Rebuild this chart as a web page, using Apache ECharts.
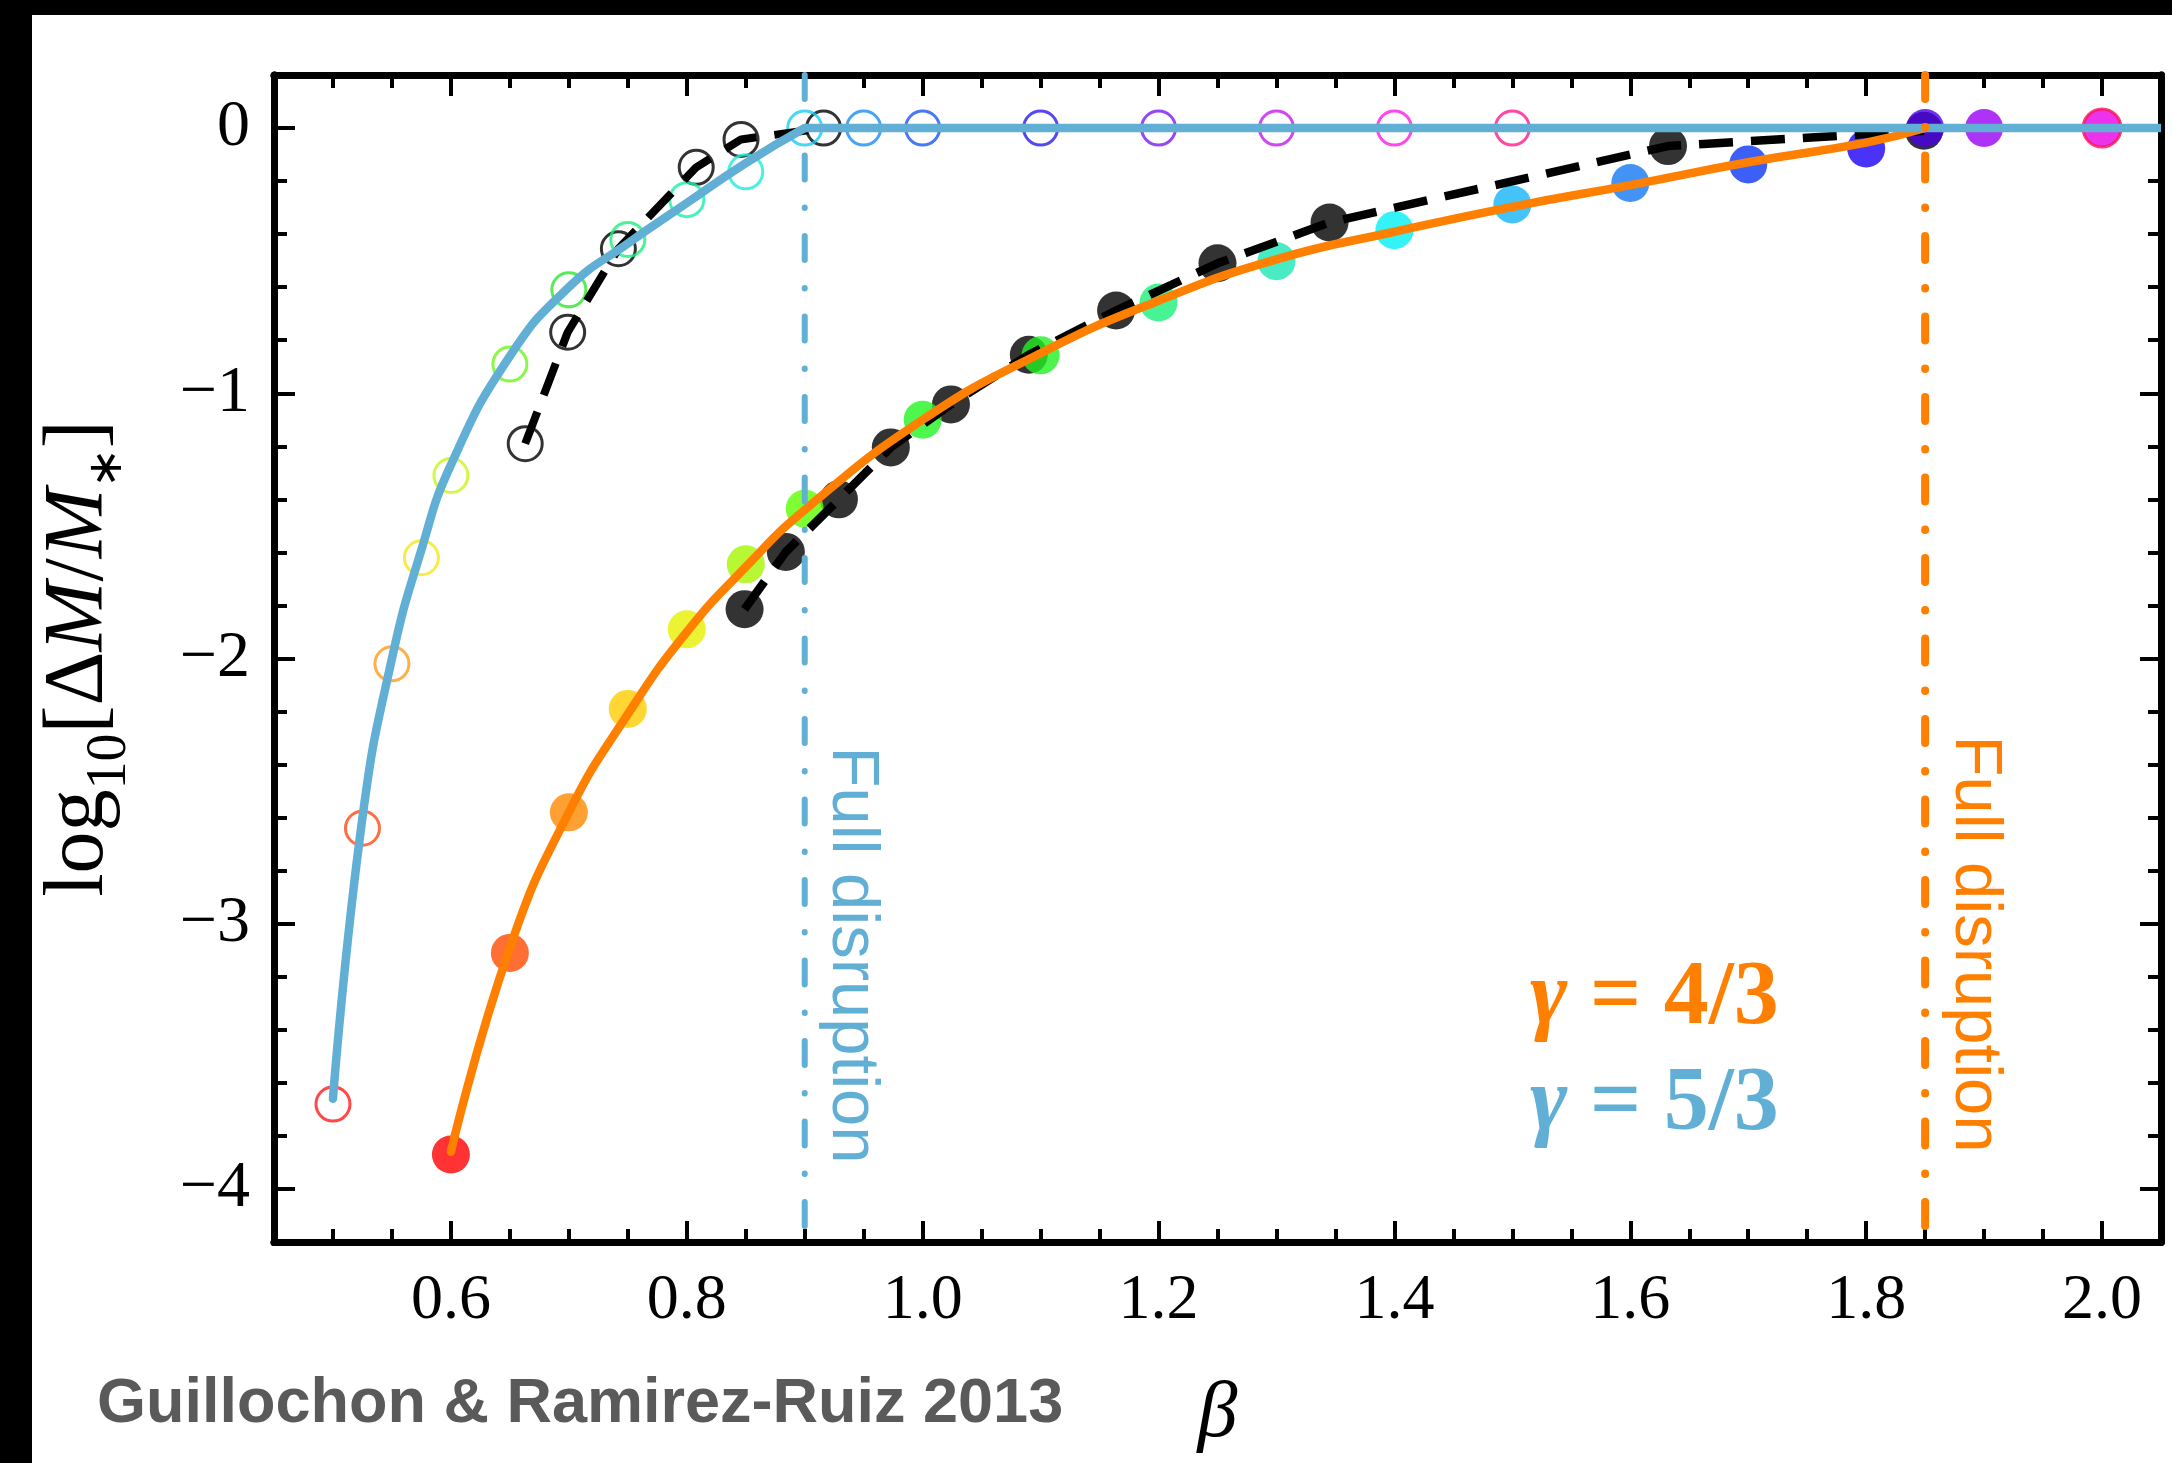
<!DOCTYPE html>
<html>
<head>
<meta charset="utf-8">
<script src="https://cdn.jsdelivr.net/npm/echarts@6/dist/echarts.min.js"></script>
<style>
html,body{margin:0;padding:0;background:#fff;}
#chart{width:2172px;height:1463px;}
</style>
</head>
<body>
<div id="chart"></div>
<script>
// ---------- axis settings ----------
const xMin = 0.45, xMax = 2.05, xMinorStep = 0.05;
const yMin = -4.2, yMax = 0.2, yMinorStep = 0.2;
const xMajorTicks = [0.6, 0.8, 1.0, 1.2, 1.4, 1.6, 1.8, 2.0];
const yMajorTicks = [-4, -3, -2, -1, 0];

// ---------- gamma = 5/3 : open coloured circles ----------
const open53Beta  = [0.5, 0.525, 0.55, 0.575, 0.6, 0.65, 0.7, 0.75, 0.8, 0.85, 0.9, 0.95, 1.0, 1.1, 1.2, 1.3, 1.4, 1.5];
const open53LogDM = [-3.68, -2.64, -2.02, -1.62, -1.31, -0.89, -0.61, -0.42, -0.27, -0.165, 0, 0, 0, 0, 0, 0, 0, 0];
const open53Colors = ['#FF1A1A','#FF4A14','#FF9A1A','#F5E61A','#C8F51A','#6EF51A','#2EE62E','#1AF07A','#1AF0AA','#1AEEDD',
                      '#1ACCF5','#1A8CF5','#1A55F5','#2A1AF0','#7A1AF0','#C21AF0','#FF1AE6','#FF1A8C'];

// ---------- gamma = 5/3 : open black circles (dashed) ----------
const black53Beta  = [0.663, 0.699, 0.742, 0.808, 0.846, 0.916];
const black53LogDM = [-1.19, -0.77, -0.455, -0.148, -0.043, 0];

// ---------- gamma = 4/3 : filled coloured circles ----------
const filled43Beta  = [0.6, 0.65, 0.7, 0.75, 0.8, 0.85, 0.9, 1.0, 1.1, 1.2, 1.3, 1.4, 1.5, 1.6, 1.7, 1.8, 1.85, 1.9, 2.0];
const filled43LogDM = [-3.87, -3.11, -2.58, -2.19, -1.89, -1.645, -1.435, -1.10, -0.857, -0.658, -0.502, -0.385, -0.288, -0.207, -0.137, -0.077, 0, 0, 0];
const filled43Colors = ['#FF0000','#FF4A00','#FF8800','#FFCC00','#E6F000','#A6F500','#5CFF00','#22F522','#22F022','#1AF07A',
                        '#1AE6B4','#00F0F5','#14B4F5','#1478F5','#0A37F5','#1A00F5','#4A00E6','#9A00F5','#E600E6'];

// ---------- gamma = 4/3 : filled black circles (dashed) ----------
const black43Beta  = [0.849, 0.884, 0.929, 0.973, 1.024, 1.09, 1.164, 1.25, 1.345, 1.632, 1.849];
const black43LogDM = [-1.814, -1.598, -1.40, -1.204, -1.042, -0.855, -0.688, -0.51, -0.356, -0.068, -0.01];

// ---------- fits ----------
const fit53Beta  = [0.5, 0.525, 0.55, 0.575, 0.6, 0.65, 0.7, 0.75, 0.8, 0.85, 0.9];
const fit53LogDM = [-3.66, -2.60, -2.00, -1.59, -1.27, -0.86, -0.60, -0.435, -0.283, -0.132, 0];
const fit53FlatBeta  = [0.9, 2.05];
const fit53FlatLogDM = [0, 0];
const fit43Beta  = [0.6, 0.65, 0.7, 0.75, 0.8, 0.85, 0.9, 1.0, 1.1, 1.2, 1.3, 1.4, 1.5, 1.6, 1.7, 1.8, 1.85];
const fit43LogDM = [-3.86, -3.09, -2.58, -2.21, -1.90, -1.655, -1.44, -1.10, -0.849, -0.651, -0.495, -0.391, -0.297, -0.215, -0.129, -0.055, 0];

// ---------- full disruption ----------
const disruption53 = 0.9;
const disruption43 = 1.85;

// ---------- styles ----------
const BLUE = '#62AFD6';
const ORANGE = '#FF7F00';
const SERIF = "'Liberation Serif','Times New Roman',serif";

const zip = (a, b) => a.map((v, i) => [v, b[i]]);

function xAxisDef(pos, major, labels) {
  const a = {
    type: 'value', position: pos, min: xMin, max: xMax,
    axisLine: { show: true, onZero: false, lineStyle: { color: '#000', width: 7 } },
    splitLine: { show: false },
    axisTick: { show: true, inside: true, length: major ? 21 : 13, lineStyle: { color: '#000', width: 4 } },
    axisLabel: { show: false }
  };
  if (major) {
    a.axisTick.customValues = xMajorTicks;
    if (labels) {
      a.axisLabel = { show: true, customValues: xMajorTicks, margin: 27,
        formatter: v => v.toFixed(1),
        fontFamily: SERIF, fontSize: 64, color: '#000' };
      a.name = 'β';
      a.nameLocation = 'middle';
      a.nameGap = 133;
      a.nameTextStyle = { fontFamily: SERIF, fontStyle: 'italic', fontSize: 80, color: '#000' };
    }
  } else {
    a.interval = xMinorStep;
  }
  return a;
}
function yAxisDef(pos, major, labels) {
  const a = {
    type: 'value', position: pos, min: yMin, max: yMax,
    axisLine: { show: true, onZero: false, lineStyle: { color: '#000', width: 7 } },
    splitLine: { show: false },
    axisTick: { show: true, inside: true, length: major ? 21 : 13, lineStyle: { color: '#000', width: 4 } },
    axisLabel: { show: false }
  };
  if (major) {
    a.axisTick.customValues = yMajorTicks;
    if (labels) {
      a.axisLabel = { show: true, customValues: yMajorTicks, margin: 24,
        formatter: v => (v === 0 ? '0' : '\u2212' + Math.abs(v)),
        fontFamily: SERIF, fontSize: 66, color: '#000' };
      a.name = '{r|log}{s|10}{r|[Δ}{i|M}{r|/}{i|M}{a|∗}{r|]}';
      a.nameLocation = 'middle';
      a.nameRotate = 90;
      a.nameGap = 146;
      a.nameTextStyle = {
        rich: {
          r: { fontFamily: SERIF, fontSize: 84, lineHeight: 90, verticalAlign: 'top', color: '#000' },
          i: { fontFamily: SERIF, fontStyle: 'italic', fontSize: 84, lineHeight: 90, verticalAlign: 'top', color: '#000' },
          s: { fontFamily: SERIF, fontSize: 56, lineHeight: 56, padding: [44, 0, 0, 0], verticalAlign: 'top', color: '#000' },
          a: { fontFamily: SERIF, fontSize: 48, lineHeight: 48, padding: [46, 0, 0, 0], verticalAlign: 'top', color: '#000' }
        }
      };
    }
  } else {
    a.interval = yMinorStep;
  }
  return a;
}

const chart = echarts.init(document.getElementById('chart'), null, { renderer: 'canvas' });
chart.setOption({
  animation: false,
  backgroundColor: '#fff',
  grid: { left: 274, right: 11, top: 75, bottom: 221, containLabel: false },
  xAxis: [
    xAxisDef('bottom', false, false),
    xAxisDef('bottom', true, true),
    xAxisDef('top', false, false),
    xAxisDef('top', true, false)
  ],
  yAxis: [
    yAxisDef('left', false, false),
    yAxisDef('left', true, true),
    yAxisDef('right', false, false),
    yAxisDef('right', true, false)
  ],
  series: [
    { type: 'scatter', data: zip(black53Beta, black53LogDM), symbol: 'circle', symbolSize: 34, z: 2,
      itemStyle: { color: 'rgba(0,0,0,0)', borderColor: '#000', borderWidth: 3 } },
    { type: 'scatter', data: zip(black43Beta, black43LogDM), symbol: 'circle', symbolSize: 38, z: 2,
      itemStyle: { color: '#000' } },
    { type: 'scatter', symbol: 'circle', symbolSize: 34, z: 3,
      data: open53Beta.map((b, i) => ({ value: [b, open53LogDM[i]], itemStyle: { borderColor: open53Colors[i] } })),
      itemStyle: { color: 'rgba(0,0,0,0)', borderWidth: 3 } },
    { type: 'scatter', symbol: 'circle', symbolSize: 38, z: 3,
      data: filled43Beta.map((b, i) => ({ value: [b, filled43LogDM[i]],
        itemStyle: { color: filled43Colors[i], borderColor: i === filled43Beta.length - 1 ? '#FF1050' : filled43Colors[i], borderWidth: i === filled43Beta.length - 1 ? 3 : 0 } })) },
    { type: 'line', data: zip(black53Beta, black53LogDM), symbol: 'none', z: 4,
      lineStyle: { color: '#000', width: 8, type: [34, 18] } },
    { type: 'line', data: zip(black43Beta, black43LogDM), symbol: 'none', z: 4,
      lineStyle: { color: '#000', width: 8.5, type: [34, 18] } },
    { type: 'line', data: zip(fit43Beta, fit43LogDM), symbol: 'none', smooth: 0.5, z: 5,
      lineStyle: { color: ORANGE, width: 8.5, cap: 'round' } },
    { type: 'line', data: zip(fit53Beta, fit53LogDM), symbol: 'none', smooth: 0.5, z: 6,
      lineStyle: { color: BLUE, width: 8.5, cap: 'round' } },
    { type: 'line', data: zip(fit53FlatBeta, fit53FlatLogDM), symbol: 'none', z: 6,
      lineStyle: { color: BLUE, width: 8.5 } },
    { type: 'line', data: [[disruption53, yMax], [disruption53, yMin]], symbol: 'none', z: 7,
      lineStyle: { color: BLUE, width: 6, type: [24, 28, 0.5, 28], cap: 'round' } },
    { type: 'line', data: [[disruption43, yMax], [disruption43, yMin]], symbol: 'none', z: 7,
      lineStyle: { color: ORANGE, width: 8, type: [24, 28, 0.5, 28], cap: 'round' } }
  ],
  graphic: [
    { type: 'rect', shape: { x: 0, y: 0, width: 2172, height: 15 }, style: { fill: '#000' }, z: 100 },
    { type: 'rect', shape: { x: 0, y: 0, width: 32, height: 1463 }, style: { fill: '#000' }, z: 100 },
    { type: 'text', x: 97, y: 1405, z: 100,
      style: { text: 'Guillochon & Ramirez-Ruiz 2013', fill: '#5A5A5A', font: "bold 63px 'Liberation Sans', Arial, sans-serif",
               align: 'left', verticalAlign: 'middle', textAlign: 'left', textVerticalAlign: 'middle' } },
    { type: 'text', x: 851, y: 955, rotation: -Math.PI / 2, z: 100,
      style: { text: 'Full disruption', fill: BLUE, font: "67px 'Liberation Sans', Arial, sans-serif",
               align: 'center', verticalAlign: 'middle', textAlign: 'center', textVerticalAlign: 'middle' } },
    { type: 'text', x: 1974, y: 944, rotation: -Math.PI / 2, z: 100,
      style: { text: 'Full disruption', fill: ORANGE, font: "67px 'Liberation Sans', Arial, sans-serif",
               align: 'center', verticalAlign: 'middle', textAlign: 'center', textVerticalAlign: 'middle' } },
    { type: 'text', x: 1530, y: 1000, z: 100,
      style: { text: '{g|γ}{b| = 4/3}', align: 'left', verticalAlign: 'middle', textAlign: 'left', textVerticalAlign: 'middle',
               rich: { g: { fontFamily: SERIF, fontStyle: 'italic', fontWeight: 'bold', fontSize: 90, fill: ORANGE, color: ORANGE },
                       b: { fontFamily: SERIF, fontWeight: 'bold', fontSize: 90, fill: ORANGE, color: ORANGE } } } },
    { type: 'text', x: 1530, y: 1106, z: 100,
      style: { text: '{g|γ}{b| = 5/3}', align: 'left', verticalAlign: 'middle', textAlign: 'left', textVerticalAlign: 'middle',
               rich: { g: { fontFamily: SERIF, fontStyle: 'italic', fontWeight: 'bold', fontSize: 90, fill: BLUE, color: BLUE },
                       b: { fontFamily: SERIF, fontWeight: 'bold', fontSize: 90, fill: BLUE, color: BLUE } } } }
  ]
});
</script>
</body>
</html>
